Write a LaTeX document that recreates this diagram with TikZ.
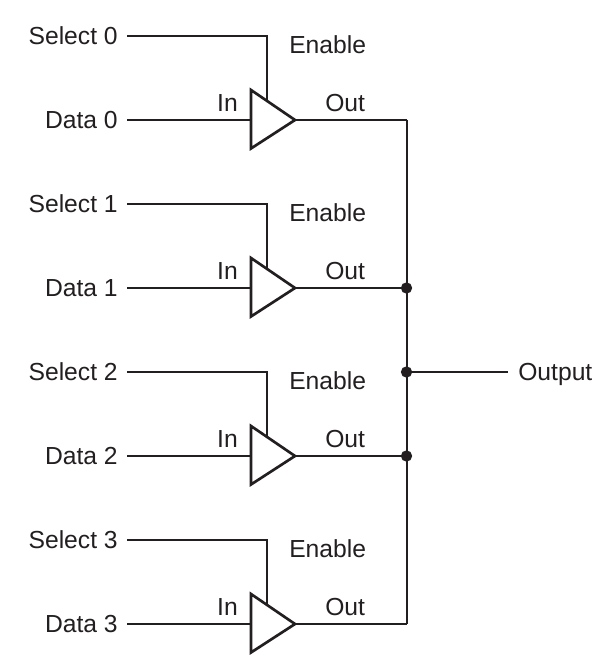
\documentclass[tikz,border=0pt]{standalone}
\usepackage{fontspec}
\setmainfont{Liberation Sans}
\definecolor{ink}{HTML}{231F20}
\tikzset{x=0.75pt,y=-0.75pt,
  wire/.style={line width=1.5pt,line join=miter,draw=ink},
  tri/.style={line width=2pt,line join=miter,draw=ink},
  lbl/.style={font=\fontsize{18.5pt}{22pt}\selectfont,inner sep=0pt,text=ink,anchor=base west},
  lble/.style={lbl,anchor=base east},
  dotn/.style={circle,fill=ink,inner sep=0pt,minimum size=8.5pt}}
\begin{document}
\begin{tikzpicture}
\useasboundingbox (0,0) rectangle (613,656);
\fill[white] (0,0) rectangle (613,656);
\coordinate (busT) at (406.5,120);
\coordinate (busB) at (406.5,624);
\foreach \i/\dy in {0/0,1/168,2/336,3/504}{
  \begin{scope}[yshift=-0.75*\dy pt]
  \node[lble] (s\i) at (118,44.5) {Select \i};
  \node[lble] (d\i) at (118,128.5) {Data \i};
  \node[lbl] (en\i) at (289,53.5) {Enable};
  \node[lble] (in\i) at (238,111.5) {In};
  \node[lbl] (o\i) at (325,111.5) {Out};
  \coordinate (a\i) at (251,90);
  \coordinate (b\i) at (251,148.5);
  \coordinate (c\i) at (295,120);
  \coordinate (w\i) at (406.5,120);
  \coordinate (e\i) at (267,101);
  \draw[wire] (127,36) -- (267,36) -- (e\i);
  \draw[wire] (127,120) -- (251,120);
  \draw[wire] (c\i) -- (w\i);
  \draw[tri] (a\i) -- (b\i) -- (c\i) -- cycle;
  \end{scope}
}
\draw[wire] (busT) -- (busB);
\node[dotn] (j1) at (406.5,288) {};
\node[dotn] (j2) at (406.5,372) {};
\node[dotn] (j3) at (406.5,456) {};
\node[lbl] (out) at (518,380) {Output};
\draw[wire] (j2) -- (508,372);
\end{tikzpicture}
\end{document}
